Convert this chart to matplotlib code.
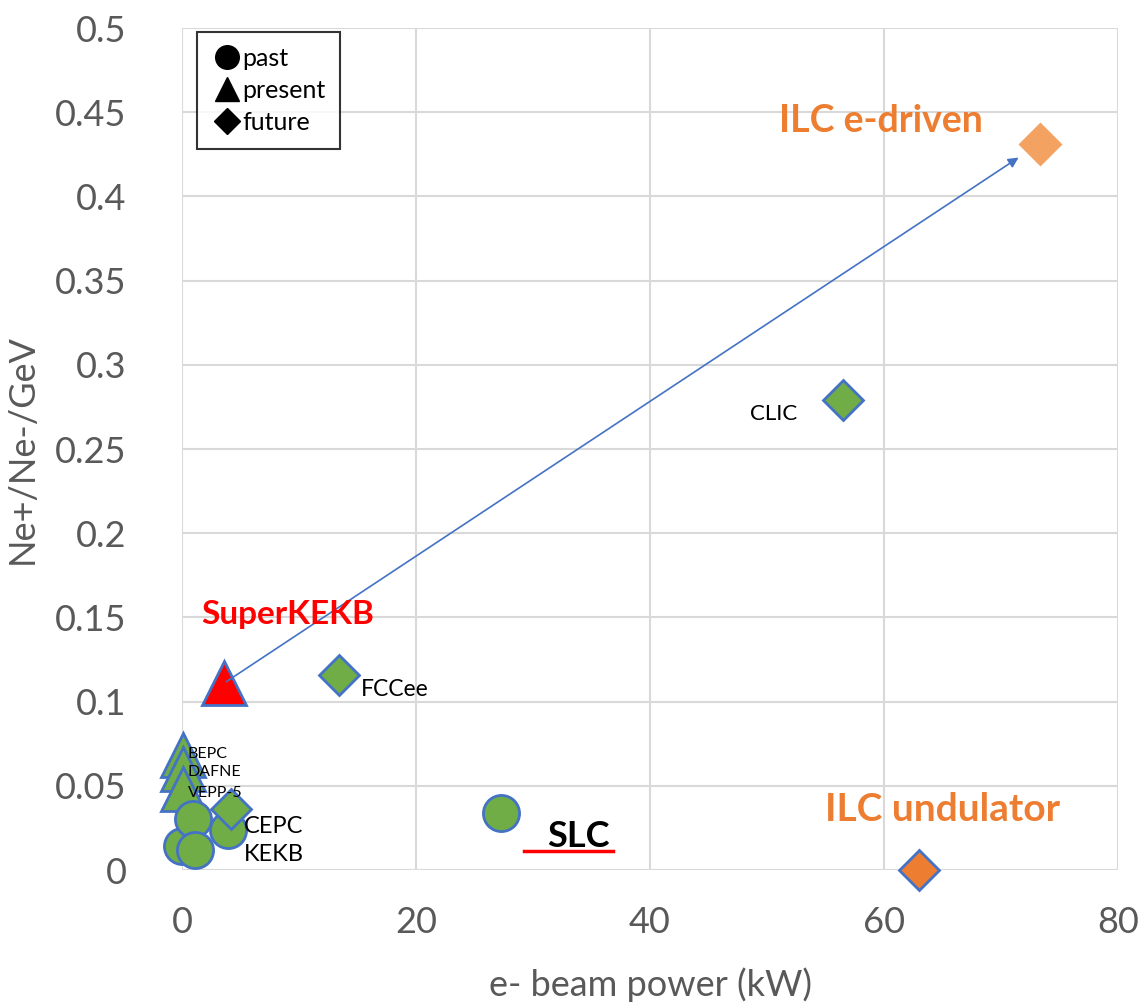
import matplotlib.pyplot as plt
from matplotlib.lines import Line2D

plt.rcParams['font.family'] = ['Lato', 'DejaVu Sans']

# past (circles)
past_x = [0.0, 0.9, 1.1, 3.9, 27.3]
past_y = [0.014, 0.030, 0.012, 0.024, 0.034]
# present (triangles)
present_x = [0.1, 0.1, 0.1]
present_y = [0.068, 0.060, 0.048]
superkekb_x, superkekb_y = 3.6, 0.111
# future (diamonds)
future_x = [4.2, 13.4, 56.5]
future_y = [0.036, 0.116, 0.279]
ilc_e_x, ilc_e_y = 73.3, 0.431
ilc_u_x, ilc_u_y = 63.0, 0.0

green = '#70AD47'
edge = '#4472C4'
orange = '#ED7D31'

fig = plt.figure(figsize=(11.47, 10.08), dpi=100)
ax = fig.add_axes([0.1587, 0.1369, 0.816, 0.8353])

ax.plot(present_x, present_y, '^', ms=31, mfc=green, mec=edge, mew=2, ls='none', clip_on=False, zorder=3)
ax.plot(past_x, past_y, 'o', ms=26, mfc=green, mec=edge, mew=2, ls='none', clip_on=False, zorder=4)
ax.plot(future_x, future_y, 'D', ms=20, mfc=green, mec=edge, mew=2, ls='none', clip_on=False, zorder=5)
ax.plot([superkekb_x], [superkekb_y], '^', ms=31, mfc='red', mec=edge, mew=2, clip_on=False, zorder=5)
ax.plot([ilc_e_x], [ilc_e_y], 'D', ms=20, mfc='#F4A261', mec='#F4A261', mew=2, clip_on=False, zorder=5)
ax.plot([ilc_u_x], [ilc_u_y], 'D', ms=20, mfc=orange, mec=edge, mew=2, clip_on=False, zorder=5)

ax.annotate('', xy=(71.7, 0.424), xytext=(superkekb_x, superkekb_y),
            arrowprops=dict(arrowstyle='-|>', color=edge, lw=1.2, mutation_scale=15), zorder=6)

# labels
ax.text(0.5, 0.069, 'BEPC', fontsize=11.5, va='center', zorder=7)
ax.text(0.5, 0.058, 'DAFNE', fontsize=11.5, va='center', zorder=7)
ax.text(0.5, 0.046, 'VEPP-5', fontsize=11.5, va='center', zorder=7)
ax.text(5.3, 0.026, 'CEPC', fontsize=17, va='center', zorder=7)
ax.text(5.3, 0.009, 'KEKB', fontsize=17, va='center', zorder=7)
ax.text(15.3, 0.107, 'FCCee', fontsize=16.5, va='center', zorder=7)
ax.text(52.6, 0.271, 'CLIC', fontsize=16, va='center', ha='right', zorder=7)
ax.text(1.6, 0.152, 'SuperKEKB', fontsize=24, fontweight='bold', color='red', va='center', zorder=7)
ax.text(51.0, 0.445, 'ILC e-driven', fontsize=27, fontweight='bold', color=orange, va='center', zorder=7)
ax.text(55.0, 0.036, 'ILC undulator', fontsize=28, fontweight='bold', color=orange, va='center', zorder=7)
ax.text(31.2, 0.020, 'SLC', fontsize=26, fontweight='bold', color='black', va='center', zorder=7)
ax.plot([29.2, 36.8], [0.011, 0.011], color='red', lw=2.5, zorder=7)

ax.set_xlim(0, 80)
ax.set_ylim(0, 0.5)
ax.set_xticks([0, 20, 40, 60, 80])
ax.set_yticks([0, 0.05, 0.1, 0.15, 0.2, 0.25, 0.3, 0.35, 0.4, 0.45, 0.5])
ax.set_yticklabels(['0', '0.05', '0.1', '0.15', '0.2', '0.25', '0.3', '0.35', '0.4', '0.45', '0.5'])
ax.grid(True, color='#D9D9D9', lw=1.5)
ax.set_axisbelow(True)
for s in ax.spines.values():
    s.set_visible(False)
ax.tick_params(length=0, labelsize=26, labelcolor='#595959')
ax.tick_params(axis='y', pad=40)
ax.tick_params(axis='x', pad=26)
ax.set_xlabel('e- beam power (kW)', fontsize=26, color='#595959', labelpad=20)
ax.set_ylabel('Ne+/Ne-/GeV', fontsize=26, color='#595959', labelpad=12)

handles = [Line2D([], [], marker='o', color='black', ls='none', ms=17),
           Line2D([], [], marker='^', color='black', ls='none', ms=17),
           Line2D([], [], marker='D', color='black', ls='none', ms=13)]
leg = ax.legend(handles, ['past', 'present', 'future'], loc='upper left',
                bbox_to_anchor=(0.016, 0.995), borderaxespad=0, fontsize=18,
                frameon=True, fancybox=False, handletextpad=0.0, handlelength=1.2,
                labelspacing=0.35, borderpad=0.6)
leg.get_frame().set_edgecolor('black')
leg.get_frame().set_linewidth(1.5)

fig.savefig('out.png', dpi=100)
